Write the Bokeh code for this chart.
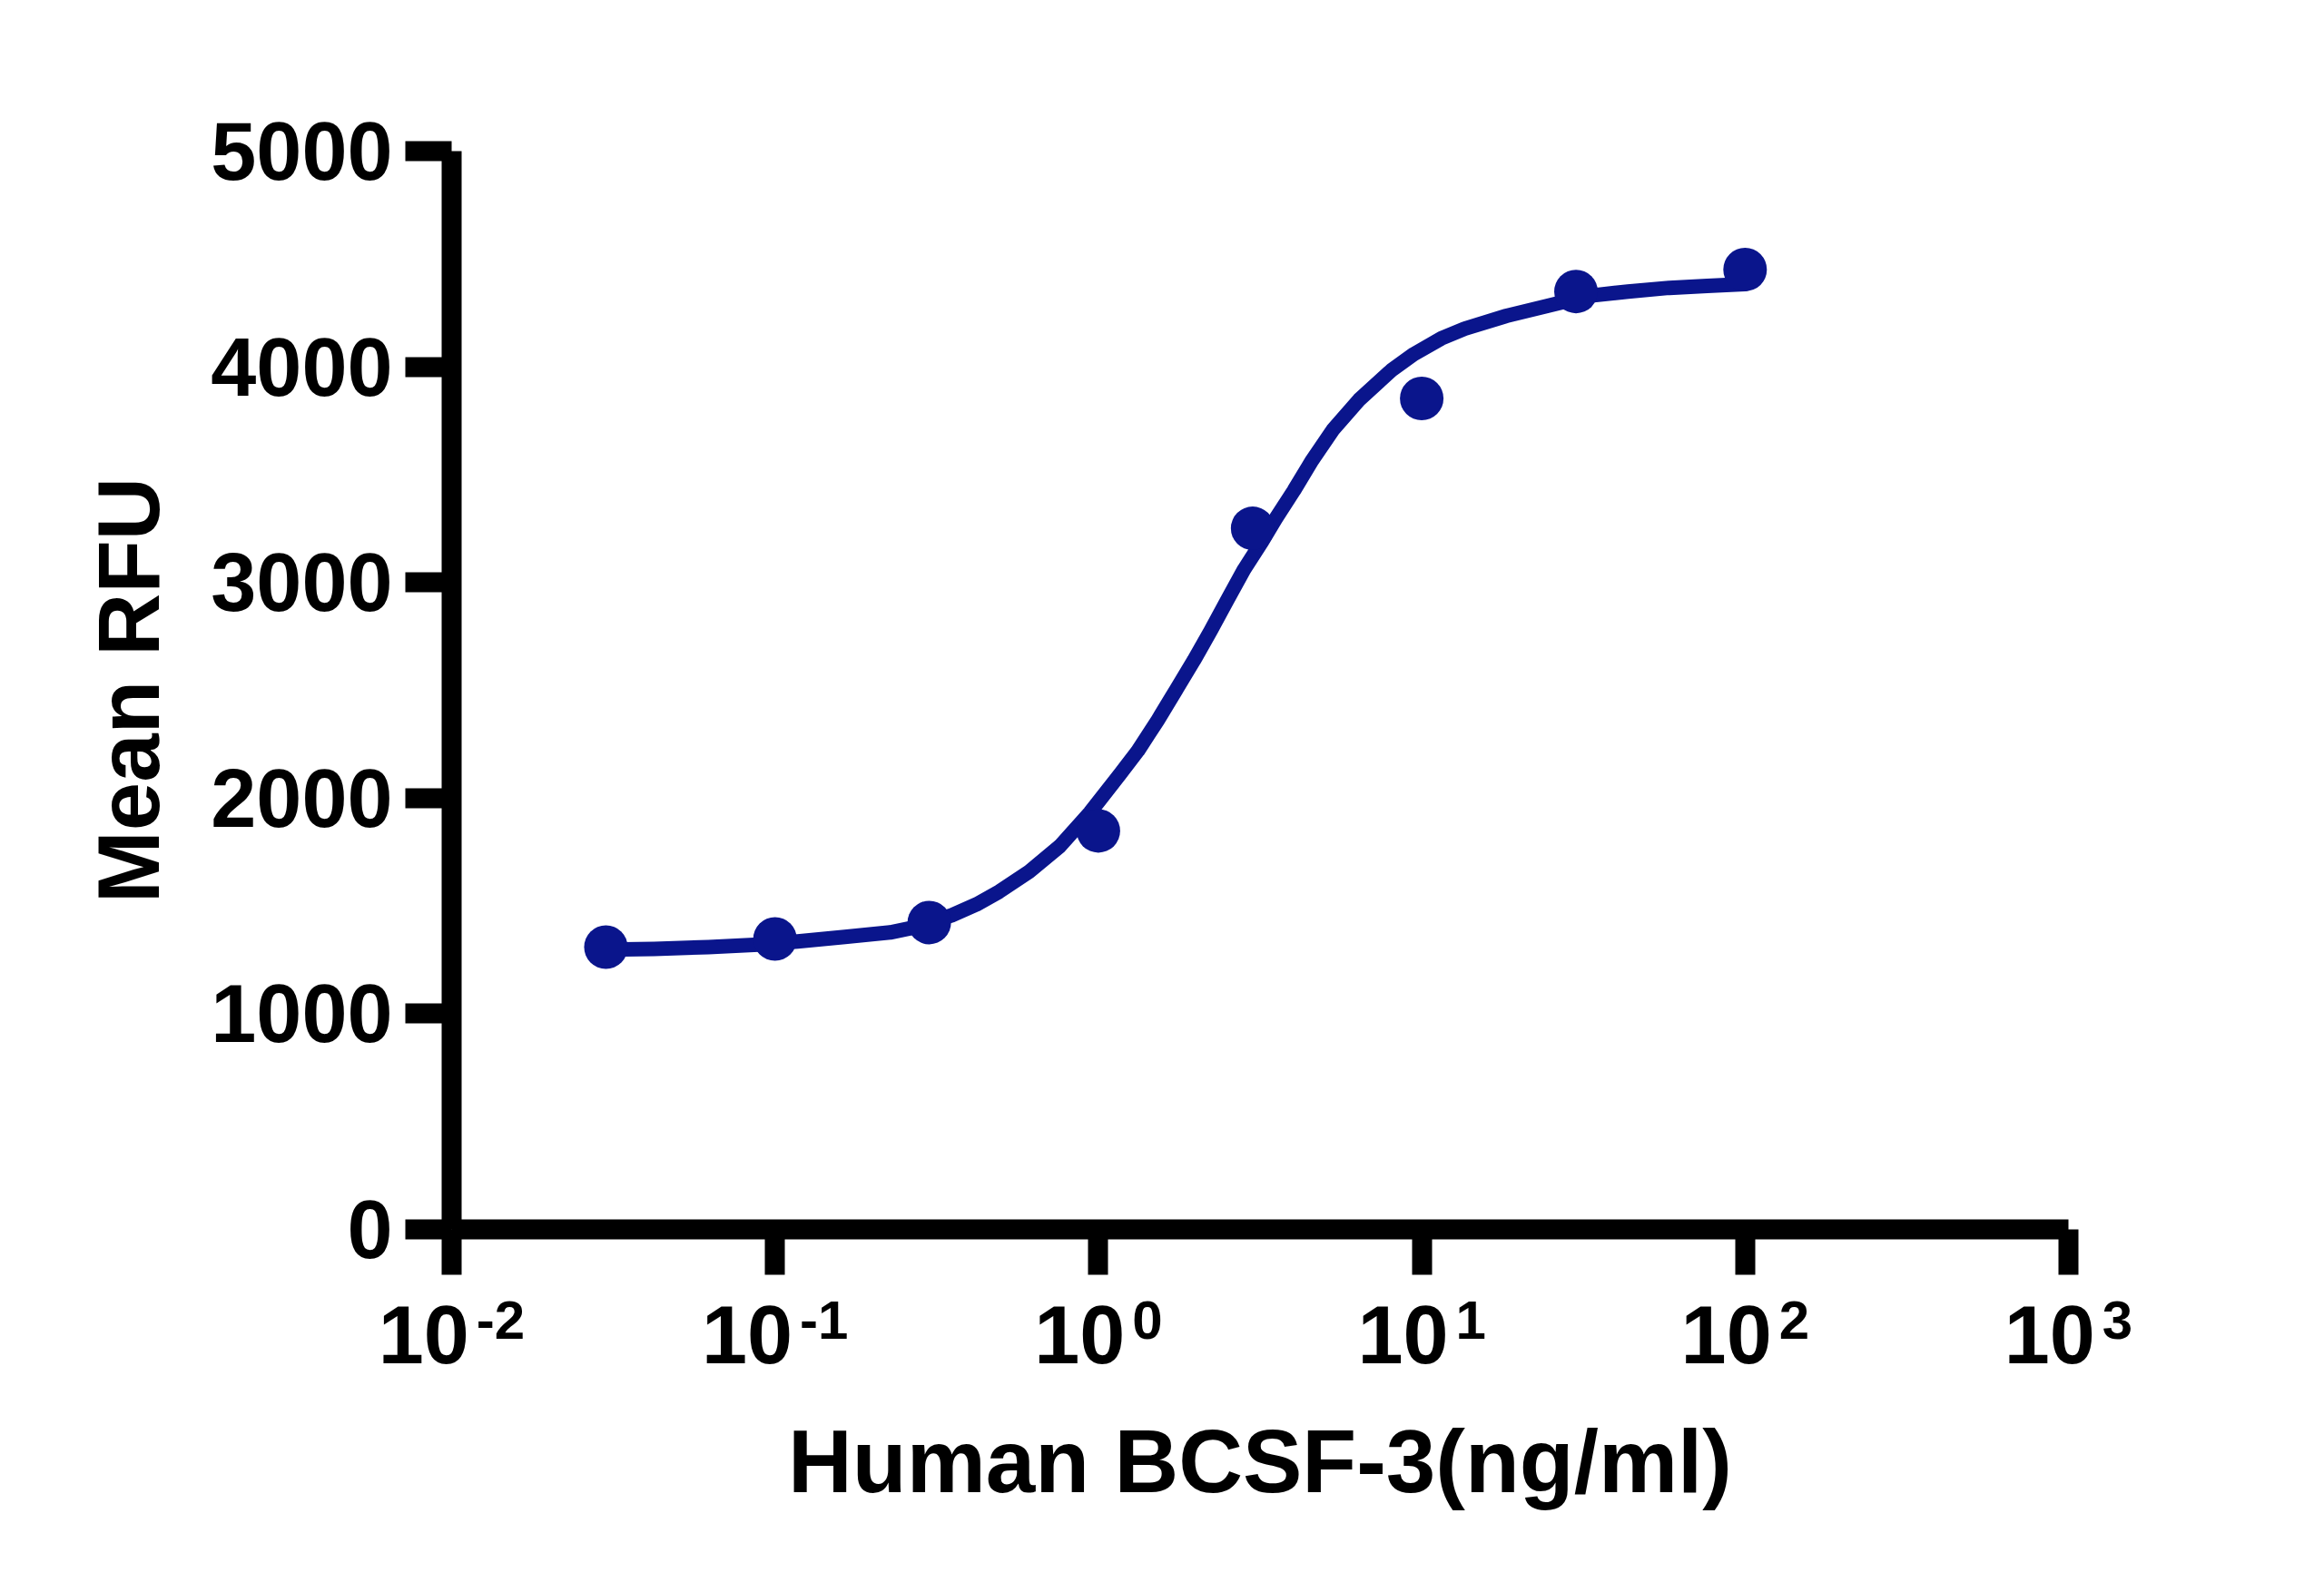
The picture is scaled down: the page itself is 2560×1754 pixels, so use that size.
from bokeh.plotting import figure
from bokeh.models import Range1d, FixedTicker, CustomJSTickFormatter, ColumnDataSource
from bokeh.core.properties import value
from bokeh.embed import file_html
from bokeh.resources import INLINE

# ---- data ----
conc = [0.03, 0.1, 0.3, 1, 3, 10, 30, 100]
rfu = [1309, 1347, 1423, 1848, 3251, 3853, 4349, 4451]

# fitted curve (log10 concentration, RFU)
fit_log_conc = [-1.517, -1.374, -1.206, -1.037, -0.930, -0.784, -0.644, -0.577,
                -0.520, -0.453, -0.377, -0.307, -0.214, -0.119, -0.026, 0.066,
                0.122, 0.184, 0.240, 0.296, 0.347, 0.400, 0.451, 0.507, 0.549,
                0.605, 0.661, 0.726, 0.807, 0.909, 0.976, 1.060, 1.133, 1.262,
                1.389, 1.512, 1.638, 1.765, 1.883, 2.000]
fit_rfu = [1297, 1301, 1309, 1322, 1335, 1356, 1377, 1398,
           1423, 1457, 1507, 1566, 1659, 1777, 1933, 2109,
           2219, 2362, 2501, 2640, 2775, 2922, 3061, 3192, 3297,
           3427, 3566, 3709, 3848, 3987, 4059, 4131, 4177, 4236,
           4282, 4328, 4349, 4366, 4375, 4383]
fit_conc = [10 ** v for v in fit_log_conc]

x_ticks = [0.01, 0.1, 1, 10, 100, 1000]
x_tick_base = ["10", "10", "10", "10", "10", "10"]
x_tick_exponents = ["-2", "-1", "0", "1", "2", "3"]
y_ticks = [0, 1000, 2000, 3000, 4000, 5000]

x_title = "Human BCSF-3(ng/ml)"
y_title = "Mean RFU"

# ---- style ----
NAVY = "#0a158c"
FONT = "Liberation Sans"
TICK_FS = 90
SUP_FS = 60

p = figure(x_axis_type="log",
           x_range=Range1d(0.01, 1000), y_range=Range1d(0, 5000),
           frame_width=1781, frame_height=1188,
           min_border_left=497, min_border_right=266,
           min_border_top=166, min_border_bottom=384,
           output_backend="svg", toolbar_location=None)
p.grid.visible = False
p.outline_line_color = None
p.background_fill_color = "white"
p.border_fill_color = "white"

for ax in (p.xaxis[0], p.yaxis[0]):
    ax.axis_line_width = 22
    ax.axis_line_color = "black"
    ax.major_tick_line_width = 22
    ax.major_tick_line_color = "black"
    ax.major_tick_in = 0
    ax.minor_tick_line_color = None
    ax.axis_label_text_font = FONT
    ax.axis_label_text_font_style = "bold"
    ax.axis_label_text_color = "black"

p.xaxis[0].ticker = FixedTicker(ticks=x_ticks, minor_ticks=[])
p.xaxis[0].major_tick_out = 50
p.xaxis[0].formatter = CustomJSTickFormatter(code="return ''")
p.xaxis[0].major_label_standoff = 0
p.xaxis[0].axis_label = x_title
p.xaxis[0].axis_label_text_font_size = "98px"
p.xaxis[0].axis_label_standoff = 150

p.yaxis[0].ticker = FixedTicker(ticks=y_ticks, minor_ticks=[])
p.yaxis[0].major_tick_out = 51
p.yaxis[0].major_label_text_font = FONT
p.yaxis[0].major_label_text_font_style = "bold"
p.yaxis[0].major_label_text_font_size = f"{TICK_FS}px"
p.yaxis[0].major_label_text_color = "black"
p.yaxis[0].major_label_standoff = 14
p.yaxis[0].axis_label = y_title
p.yaxis[0].axis_label_text_font_size = "96px"
p.yaxis[0].axis_label_standoff = 34

# ---- marks ----
p.line(fit_conc, fit_rfu, line_color=NAVY, line_width=16, line_join="round", line_cap="round")
p.scatter(conc, rfu, size=48, fill_color=NAVY, line_color=NAVY, line_width=0)

# ---- x tick labels: "10" with a superscript exponent, centred on the tick ----
w10 = 2 * 0.556 * TICK_FS
gap = 8
base_off, sup_off = [], []
for e in x_tick_exponents:
    ws = sum((0.333 if ch == "-" else 0.556) for ch in e) * SUP_FS
    start = -(w10 + gap + ws) / 2
    base_off.append(start)
    sup_off.append(start + w10 + gap)

src = ColumnDataSource(dict(x=x_ticks, y=[0] * len(x_ticks), b=x_tick_base,
                            t=x_tick_exponents, bo=base_off, so=sup_off))
r1 = p.text(x="x", y="y", text="b", x_offset="bo", y_offset=116, source=src,
            text_font=value(FONT), text_font_style="bold",
            text_font_size=f"{TICK_FS}px", text_color="black",
            text_align="left", text_baseline="alphabetic")
r1.level = "overlay"
r2 = p.text(x="x", y="y", text="t", x_offset="so", y_offset=100, source=src,
            text_font=value(FONT), text_font_style="bold",
            text_font_size=f"{SUP_FS}px", text_color="black",
            text_align="left", text_baseline="alphabetic")
r2.level = "overlay"

open("out.html", "w").write(file_html(p, INLINE))
